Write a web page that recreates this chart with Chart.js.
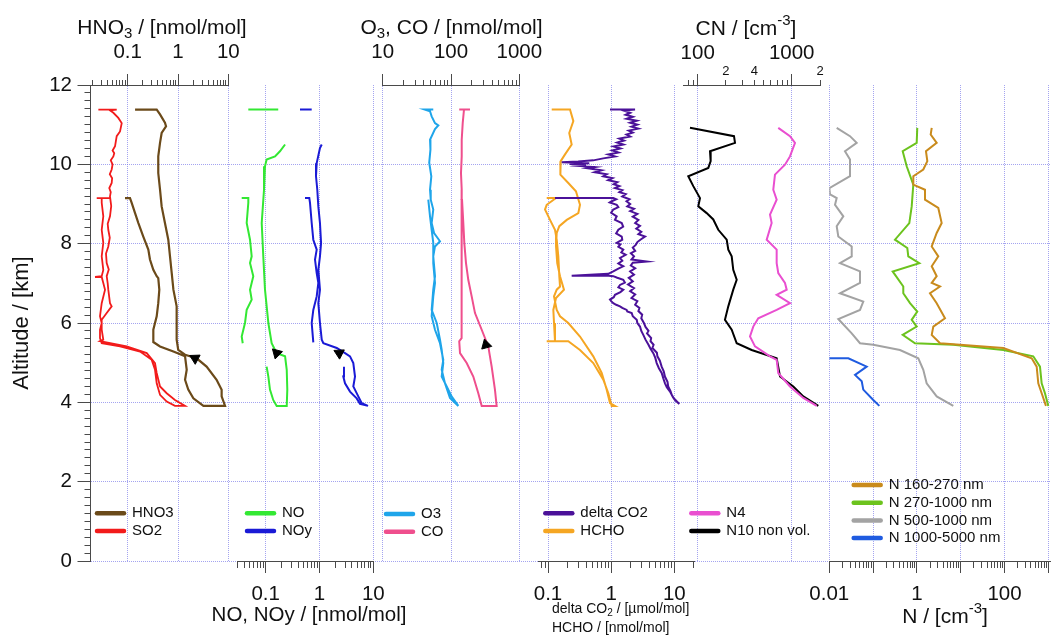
<!DOCTYPE html>
<html>
<head>
<meta charset="utf-8">
<title>Vertical profiles</title>
<script src="https://cdn.jsdelivr.net/npm/chart.js@4.4.1/dist/chart.umd.min.js"></script>
<style>
  html, body { margin: 0; padding: 0; background: #ffffff; }
  #wrap { position: relative; width: 1051px; height: 635px; }
</style>
</head>
<body>
<div id="wrap"><canvas id="profiles" width="1051" height="635"></canvas></div>
<script>
// ====================================================
// Data (altitude in km, mixing ratios / number concentrations)
// ====================================================
const altLabels = [0, 2, 4, 6, 8, 10, 12];
const altMinorStep = 0.2;

const hno3Labels = [0.1, 1, 10];
const noLabels = [0.1, 1, 10];
const o3Labels = [10, 100, 1000];
const co2Labels = [0.1, 1, 10];
const cnLabels = [100, 1000];
const cnSmallLabels = { 200: '2', 400: '4', 2000: '2' };
const nLabels = [0.01, 1, 100];

// HNO3 / SO2 panel
const hno3Alt = [11.38, 11.38, 11.26, 11.05, 10.96, 10.79, 10.54, 10.20, 9.78, 9.36, 8.94, 8.52, 8.10, 7.68, 7.26, 6.84, 6.42, 6.00, 5.58, 5.32,
  5.20, 5.11, 4.90, 4.57, 4.32, 4.15, 3.91, 3.91, 4.10, 4.32, 4.57, 4.82, 5.16, 5.28, 5.41, 5.52, 5.83, 6.17, 6.50, 6.84,
  7.13, 7.18, 7.34, 7.60, 7.85, 8.18, 8.52, 8.77, 9.03, 9.15, 9.15];
const hno3Val = [0.140, 0.377, 0.439, 0.55, 0.578, 0.473, 0.439, 0.405, 0.405, 0.439, 0.473, 0.55, 0.641, 0.693, 0.75, 0.81, 0.94, 0.94, 0.94, 1.01,
  1.38, 2.35, 3.70, 5.85, 7.37, 7.37, 8.62, 3.2, 2.02, 1.60, 1.38, 1.49, 1.38, 0.81, 0.439, 0.323, 0.323, 0.377, 0.405, 0.425,
  0.405, 0.377, 0.323, 0.277, 0.257, 0.204, 0.163, 0.140, 0.120, 0.111, 0.0884];

const so2Alt = [11.38, 11.38, 11.36, 11.30, 11.17, 11.04, 10.83, 10.71, 10.46, 10.35, 10.28, 10.20, 10.10, 10.00, 9.87, 9.75, 9.65, 9.53, 9.40, 9.30,
  9.19, 8.95, 8.69, 8.50, 8.35, 8.15, 7.93, 7.75, 7.51, 7.35, 7.18, 7.00, 6.84, 6.50, 6.42, 6.25, 6.08, 5.83, 5.58, 5.54,
  5.41, 5.24, 4.99, 4.74, 4.40, 4.23, 4.06, 3.91, 3.91, 4.02, 4.19, 4.48, 4.82, 5.07, 5.28, 5.41, 5.49, 5.62, 5.83, 6.00,
  6.17, 6.50, 6.84, 7.01, 7.16, 7.16, 7.18, 7.34, 7.68, 8.02, 8.35, 8.69, 9.03, 9.15, 9.15, 9.15];
const so2Val = [0.0261, 0.0604, 0.0444, 0.0518, 0.065, 0.076, 0.0703, 0.0604, 0.056, 0.050, 0.054, 0.0518, 0.046, 0.050, 0.048, 0.044, 0.049, 0.048, 0.043, 0.046,
  0.0444, 0.047, 0.0444, 0.040, 0.0411, 0.044, 0.0411, 0.037, 0.0382, 0.042, 0.0382, 0.040, 0.0411, 0.0444, 0.048, 0.0382, 0.0304, 0.0304, 0.0327, 0.0281,
  0.0955, 0.239, 0.349, 0.377, 0.439, 0.596, 0.87, 1.38, 0.87, 0.596, 0.439, 0.377, 0.349, 0.30, 0.176, 0.0703, 0.0304, 0.0281, 0.0281, 0.0304,
  0.0281, 0.0304, 0.0354, 0.0327, 0.0304, 0.0224, 0.0304, 0.0327, 0.0304, 0.0327, 0.0304, 0.0327, 0.0304, 0.0304, 0.0242, 0.0444];

// NO / NOy panel (null = data gap)
const noAlt = [11.38, 11.38, null, 10.50, 10.33, 10.20, 10.12, 9.95, 9.36, 8.52, 7.68, 6.84, 6.00, 5.49, 5.24, 5.16, 4.82, 4.32, 3.91, 3.91,
  4.06, 4.32, 4.65, 4.90, null, 9.15, 9.15, 9.03, 8.52, 8.10, 7.68, 7.51, 7.18, 6.84, 6.59, 6.33, 6.00, 5.66, 5.49];
const noVal = [0.0475, 0.171, null, 0.229, 0.184, 0.149, 0.104, 0.097, 0.093, 0.0843, 0.0902, 0.097, 0.112, 0.129, 0.160, 0.229, 0.246, 0.252, 0.246, 0.160,
  0.138, 0.120, 0.112, 0.104, null, 0.0358, 0.0475, 0.0475, 0.0443, 0.0511, 0.0549, 0.0511, 0.0588, 0.0511, 0.0549, 0.0443, 0.0412, 0.0358, 0.0374];

const noyAlt = [11.38, 11.38, null, 10.50, 10.41, 10.03, 9.70, 9.36, 8.94, 8.52, 8.02, 7.68, 7.34, 6.84, 6.50, 6.00, 5.58, 5.49, 5.37, 5.24,
  5.16, 4.99, 4.65, 4.40, 4.15, 3.98, 3.91, 3.96, 4.10, 4.27, 4.48, 4.65, 4.90, null, 9.15, 9.15, 9.03, 8.52, 8.10, 7.85,
  7.60, 7.26, 7.01, 6.67, 6.33, 6.00, 5.51];
const noyVal = [0.434, 0.716, null, 1.10, 1.02, 0.887, 0.861, 0.910, 0.951, 1.02, 1.07, 1.02, 0.951, 1.02, 0.951, 1.02, 1.10, 1.18, 2.09, 2.98,
  3.69, 4.25, 4.57, 4.25, 5.26, 6.1, 7.96, 5.66, 4.91, 3.69, 2.98, 2.77, 2.85, null, 0.538, 0.646, 0.666, 0.716, 0.767, 0.887,
  0.825, 0.887, 0.951, 0.887, 0.767, 0.716, 0.767];

// O3 / CO panel
const o3Alt = [11.38, 11.38, 11.34, 11.21, 11.04, 10.98, 10.89, 10.62, 10.37, 10.04, 9.70, 9.36, 9.11, 8.86, 8.52, 8.27, 8.06, 7.93, 7.68, 7.18,
  6.84, 6.33, 6.00, 5.58, 5.32, 4.99, 4.65, 4.40, 4.15, 3.91, 4.11, 4.48, 4.82, 5.07, 5.49, 5.83, 6.17, 6.67, 7.01, 7.51,
  8.02, 8.35, 8.69, 9.11];
const o3Val = [55.0, 41.6, 49.3, 52.1, 58.3, 65.2, 58.3, 49.3, 50, 48, 51.5, 49.3, 50.5, 55.0, 52.1, 56.5, 69.0, 58.3, 55.0, 58.3,
  55, 52.1, 61.8, 69.0, 73.1, 77.1, 73.1, 86.5, 102, 128, 96.6, 81.6, 73.1, 77.1, 69.0, 58.3, 52.1, 55.0, 58.3, 55,
  55, 52.1, 49.3, 46.5];

const coAlt = [11.38, 11.38, 11.38, 11.04, 10.62, 10.20, 9.78, 9.36, 8.52, 7.68, 6.84, 6.00, 5.62, 5.54, 5.24, 4.99, 4.65, 4.23, 3.91, 3.91,
  4.32, 4.90, 5.41, 5.83, 6.25, 6.67, 7.09, 7.51, 8.02, 8.52, 9.11, 9.13];
const coVal = [189.7, 132, 155, 148.4, 143.5, 143.5, 140, 143.5, 143.5, 141, 143.5, 143.5, 143.5, 132, 135.5, 169.7, 212, 251, 281.6, 466,
  440, 394, 351.5, 281.6, 224.6, 200.8, 179, 165.8, 156.6, 151.4, 145, 138.7];

// delta CO2 / HCHO panel (descent, then climb back to 9.15 km)
const co2Alt = [11.38, 11.38, 11.36, 11.30, 11.25, 11.20, 11.15, 11.10, 11.05, 11.00,
  10.95, 10.90, 10.85, 10.80, 10.75, 10.70, 10.65, 10.60, 10.55, 10.50,
  10.45, 10.40, 10.35, 10.30, 10.25, 10.20, 10.15, 10.10, 10.07, 10.05,
  10.03, 10.01, 9.99, 9.96, 9.93, 9.90, 9.85, 9.80, 9.75, 9.70,
  9.65, 9.60, 9.55, 9.50, 9.45, 9.40, 9.35, 9.30, 9.25, 9.19,
  9.12, 9.07, 9.00, 8.94, 8.88, 8.82, 8.75, 8.68, 8.60, 8.52,
  8.45, 8.38, 8.30, 8.24, 8.18, 8.10, 8.04, 7.97, 7.90, 7.82,
  7.76, 7.68, 7.60, 7.55, 7.52, 7.45, 7.38, 7.30, 7.22, 7.14,
  7.05, 6.97, 6.88, 6.80, 6.72, 6.63, 6.55, 6.46, 6.38, 6.30,
  6.21, 6.12, 6.00, 5.90, 5.80, 5.74, 5.62, 5.54, 5.45, 5.37,
  5.25, 5.16, 5.05, 4.90, 4.78, 4.65, 4.52, 4.40, 4.28, 4.19,
  4.10, 4.06, 3.96,
  4.02, 4.12, 4.27, 4.38, 4.48, 4.60, 4.74, 4.86, 4.99, 5.12,
  5.24, 5.35, 5.45, 5.58, 5.70, 5.80, 5.91, 6.00, 6.08, 6.17,
  6.25, 6.29, 6.33, 6.38, 6.42, 6.46, 6.50, 6.55, 6.59, 6.65,
  6.71, 6.78, 6.84, 6.90, 6.96, 7.02, 7.09, 7.14, 7.18, 7.20,
  7.19, 7.24, 7.30, 7.37, 7.43, 7.50, 7.57, 7.64, 7.72, 7.78,
  7.85, 7.92, 7.98, 8.02, 8.10, 8.18, 8.26, 8.35, 8.43, 8.52,
  8.60, 8.69, 8.78, 8.86, 8.92, 8.98, 9.04, 9.07, 9.12, 9.15,
  9.15];
const co2Val = [0.959, 2.39, 1.556, 2.0, 1.70, 2.2, 1.76, 2.54, 2.0, 2.6,
  2.1, 2.69, 1.9, 2.2, 1.75, 2.0, 1.35, 1.6, 1.25, 1.556,
  1.1, 1.4, 1.05, 1.3, 0.9, 1.15, 0.75, 0.521, 0.3, 0.165,
  0.45, 0.22, 0.40, 0.30, 0.55, 0.42, 0.70, 0.55, 0.85, 0.75,
  1.05, 0.90, 1.25, 1.10, 1.35, 1.15, 1.5, 1.35, 1.7, 1.5,
  1.95, 1.75, 2.0, 1.8, 2.3, 2.0, 2.6, 2.2, 2.7, 2.4,
  2.86, 2.5, 3.0, 2.7, 3.44, 2.9, 2.6, 2.45, 2.2, 2.4,
  2.05, 2.3, 2.1, 3.65, 2.2, 2.05, 2.4, 2.0, 2.3, 1.9,
  2.2, 1.85, 2.3, 2.0, 2.4, 2.1, 2.6, 2.4, 2.8, 2.7,
  3.1, 3.0, 3.3, 3.5, 3.9, 3.7, 4.3, 4.2, 4.7, 4.5,
  5.3, 5.4, 5.9, 6.3, 6.8, 7.1, 7.8, 8.0, 8.7, 9.1,
  9.8, 10.26, 12.0,
  11.0, 9.6, 8.55, 7.6, 7.12, 6.7, 6.31, 5.7, 5.26, 5.0,
  4.65, 4.2, 3.9, 3.5, 3.23, 3.0, 2.86, 2.6, 2.54, 2.2,
  2.115, 1.8, 1.76, 1.5, 1.38, 1.2, 1.08, 1.0, 0.959, 1.1,
  1.15, 1.4, 1.556, 1.3, 1.38, 1.65, 1.556, 1.25, 1.08, 0.85,
  0.237, 0.9, 1.08, 1.3, 1.556, 1.3, 1.5, 1.38, 1.7, 1.45,
  1.556, 1.3, 1.4, 1.224, 1.5, 1.47, 1.2, 1.30, 1.55, 1.47,
  1.15, 1.224, 1.0, 1.08, 1.3, 1.224, 0.95, 1.02, 1.2, 1.08,
  0.129];

const hchoAlt = [11.38, 11.38, 11.09, 10.79, 10.50, 10.25, 10.08, 9.87, 9.74, 9.53, 9.32, 8.98, 8.77, 8.60, 8.44, 8.27, 7.93, 7.51, 7.18, 6.84,
  6.63, 6.33, 6.00, 5.54, 5.54, 5.54, 5.32, 4.99, 4.57, 4.23, 3.91, 3.91, 3.98, 4.32, 4.74, 5.16, 5.66, 6.00, 6.17, 6.33,
  6.67, 6.84, 6.92, 7.18, 7.68, 8.10, 8.35, 8.60, 8.86, 8.98, 9.15, 9.15];
const hchoVal = [0.1145, 0.223, 0.252, 0.217, 0.237, 0.186, 0.159, 0.155, 0.159, 0.2095, 0.277, 0.321, 0.302, 0.198, 0.151, 0.1374, 0.134, 0.140, 0.155, 0.179,
  0.134, 0.1214, 0.1245, 0.129, 0.0954, 0.2095, 0.321, 0.521, 0.751, 0.902, 1.02, 1.15, 0.959, 0.850, 0.708, 0.521, 0.321, 0.2095, 0.155, 0.1374,
  0.1245, 0.1374, 0.155, 0.151, 0.1456, 0.1374, 0.129, 0.1076, 0.0896, 0.0954, 0.134, 0.0954];

// CN panel
const n4Alt = [10.92, 10.71, 10.54, 10.20, 9.99, 9.74, 9.36, 9.11, 8.73, 8.52, 8.10, 7.85, 7.51, 7.26, 7.01, 6.84, 6.71, 6.50, 6.33, 6.12,
  5.91, 5.66, 5.41, 5.16, 5.07, 4.74, 4.40, 4.11, 3.91];
const n4Val = [719.5, 959, 1084, 959, 848, 664, 637, 692, 588, 612, 542, 692, 692, 719.5, 848, 885, 692, 959, 692, 441,
  390, 360, 407, 588, 692, 719.5, 959, 1328, 1844];

const n10Alt = [10.92, 10.71, 10.54, 10.33, 10.08, 9.91, 9.70, 9.45, 9.15, 8.94, 8.77, 8.61, 8.35, 8.10, 7.85, 7.68, 7.34, 7.09, 6.84, 6.42,
  6.08, 5.83, 5.49, 5.32, 5.11, 4.65, 4.40, 4.15, 3.91];
const n10Val = [82.8, 243.3, 249.4, 135.2, 137.4, 129.7, 79.4, 89.8, 105.8, 101.5, 124.6, 146.5, 165.6, 203.5, 211.6, 230, 239, 260, 239, 211.6,
  195, 230, 260, 375, 692, 751, 1040, 1328, 1919];

// size-resolved N panel
const n160Alt = [10.92, 10.75, 10.54, 10.33, 10.08, 9.87, 9.70, 9.49, 9.36, 9.11, 8.90, 8.52, 8.27, 7.93, 7.68, 7.43, 7.18, 7.01, 6.92, 6.75,
  6.50, 6.12, 5.91, 5.70, 5.49, 5.37, 5.11, 4.90, 4.48, 4.23, 3.91];
const n160Val = [2.18, 2.065, 2.83, 1.61, 1.73, 1.40, 0.828, 0.828, 1.53, 1.53, 3.08, 3.68, 2.83, 2.18, 3.08, 2.18, 2.83, 2.18, 3.37, 1.99,
  2.83, 4.38, 2.37, 2.18, 3.37, 93.9, 418, 543, 591, 706, 885];

const n270Alt = [10.92, 10.54, 10.33, 9.95, 9.49, 8.94, 8.52, 8.10, 7.89, 7.68, 7.51, 7.30, 6.92, 6.75, 6.50, 6.29, 6.08, 5.91, 5.70, 5.49,
  5.45, 5.32, 5.16, 4.90, 4.48, 4.23, 3.91];
const n270Val = [1.02, 0.989, 0.474, 0.585, 0.828, 0.761, 0.671, 0.316, 0.604, 0.636, 1.134, 0.280, 0.489, 0.489, 0.696, 1.02, 0.761, 0.989, 0.474, 0.905,
  6.78, 93.9, 454, 646, 706, 840, 1000];

const n500Alt = [10.92, 10.71, 10.54, 10.33, 10.12, 9.70, 9.40, 9.24, 9.15, 8.98, 8.69, 8.44, 8.18, 7.93, 7.68, 7.51, 7.30, 7.01, 6.75, 6.54,
  6.33, 6.10, 5.74, 5.49, 5.45, 5.32, 5.11, 4.82, 4.48, 4.15, 3.91];
const n500Val = [0.01475, 0.0297, 0.0422, 0.0228, 0.0297, 0.0297, 0.0100, 0.0104, 0.01475, 0.0135, 0.0209, 0.01475, 0.01605, 0.0325, 0.0325, 0.01755, 0.0502, 0.0502, 0.01755, 0.0597,
  0.0502, 0.01605, 0.0325, 0.0502, 0.101, 0.411, 1.076, 1.40, 1.67, 2.83, 6.78];

const n1000Alt = [5.11, 5.11, 4.90, 4.69, 4.53, 4.32, 4.06, 3.91];
const n1000Val = [0.0100, 0.0272, 0.0714, 0.0387, 0.055, 0.0597, 0.101, 0.139];

// flight direction arrows: HNO3, NO, NOy, CO
const arrowAlt = [5.11, 5.24, 5.24, 5.45];
const arrowVal = [2.18, 0.160, 2.33, 325];

// ====================================================
// Look and layout
// ====================================================
const FONT = "'Liberation Sans', Arial, Helvetica, sans-serif";
const INK = '#111111';
const AXIS = '#4a4a4a';
const GRID = 'rgba(115,115,232,0.65)';
const TOP_H = 85;
const BOTTOM_H = 74;
const CLEAR = 'rgba(0,0,0,0)';

Chart.defaults.font.family = FONT;
Chart.defaults.color = INK;

function fixBox(scale, h) {
    scale.height = h;
    scale.paddingLeft = scale.paddingRight = scale.paddingTop = scale.paddingBottom = 0;
}

// 1..9 x 10^n ticks inside [min, max], decades flagged major
function decadeTicks(min, max) {
    const out = [];
    for (let e = Math.floor(Math.log10(min)); e <= Math.ceil(Math.log10(max)); e++) {
        for (let m = 1; m <= 9; m++) {
            const v = +(m * Math.pow(10, e)).toPrecision(6);
            if (v >= min * 0.999 && v <= max * 1.001) out.push({ value: v, major: m === 1 });
        }
    }
    return out;
}

function panelAxis(position, weight, min, max, labels, extra) {
    const top = position === 'top';
    const L = top ? 11 : 12;
    const m = top ? 5 : 6;
    const axis = {
        type: 'logarithmic',
        position: position,
        stack: position,
        stackWeight: weight,
        min: min,
        max: max,
        afterBuildTicks: (s) => { s.ticks = decadeTicks(min, max); },
        afterFit: (s) => fixBox(s, top ? TOP_H : BOTTOM_H),
        ticks: {
            autoSkip: false,
            maxRotation: 0,
            minRotation: 0,
            padding: 9,
            color: INK,
            font: { size: 20.5 },
            callback: (v) => labels.includes(v) ? String(v) : ''
        },
        grid: {
            color: (c) => c.tick && c.tick.major ? GRID : CLEAR,
            lineWidth: 1,
            tickLength: L,
            tickColor: AXIS,
            tickWidth: 1,
            tickBorderDash: (c) => c.tick && c.tick.major ? [] : [m, L - m],
            tickBorderDashOffset: (c) => c.tick && c.tick.major ? 0 : (top ? m : 0)
        },
        border: { color: AXIS, width: 1, dash: [1, 1] }
    };
    if (extra) extra(axis);
    return axis;
}

function gapAxis(position, weight) {
    return {
        type: 'linear', position: position, stack: position, stackWeight: weight,
        display: false, min: 0, max: 1,
        afterFit: (s) => fixBox(s, position === 'top' ? TOP_H : BOTTOM_H)
    };
}

function profile(label, color, axis, alt, val, width) {
    return {
        label: label,
        xAxisID: axis,
        yAxisID: 'y',
        data: alt.map((a, i) => ({ x: val[i], y: a })),
        showLine: true,
        borderColor: color,
        backgroundColor: color,
        borderWidth: width || 2,
        pointRadius: 0,
        tension: 0
    };
}

function arrow(axis, i, rotation) {
    return {
        label: 'direction',
        xAxisID: axis,
        yAxisID: 'y',
        data: [{ x: arrowVal[i], y: arrowAlt[i] }],
        showLine: false,
        pointStyle: 'triangle',
        pointRotation: rotation,
        pointRadius: 6,
        backgroundColor: '#000000',
        borderColor: '#000000',
        borderWidth: 1,
        order: -1
    };
}

// ====================================================
// Plugins: grouped legends and rich axis titles
// ====================================================
const groupLegend = {
    id: 'groupLegend',
    afterDraw(chart, args, opts) {
        const ctx = chart.ctx;
        ctx.save();
        ctx.font = opts.size + 'px ' + FONT;
        ctx.textBaseline = 'middle';
        ctx.textAlign = 'left';
        for (const g of opts.groups) {
            g.labels.forEach((label, i) => {
                const ds = chart.data.datasets.find(d => d.label === label);
                const y = g.y + i * opts.rowGap;
                ctx.strokeStyle = ds.borderColor;
                ctx.lineWidth = 4.5;
                ctx.lineCap = 'round';
                ctx.beginPath();
                ctx.moveTo(g.x + 2, y);
                ctx.lineTo(g.x + 29, y);
                ctx.stroke();
                ctx.fillStyle = INK;
                ctx.fillText(label, g.x + 37, y);
            });
        }
        ctx.restore();
    }
};

function drawRich(ctx, parts, x, y, size, align) {
    const small = Math.round(size * 0.7);
    let w = 0;
    parts.forEach(p => { ctx.font = (p[1] ? small : size) + 'px ' + FONT; w += ctx.measureText(p[0]).width; });
    let cx = align === 'left' ? x : x - w / 2;
    parts.forEach(p => {
        ctx.font = (p[1] ? small : size) + 'px ' + FONT;
        const dy = p[1] === 'sub' ? size * 0.3 : p[1] === 'sup' ? -size * 0.38 : 0;
        ctx.fillText(p[0], cx, y + dy);
        cx += ctx.measureText(p[0]).width;
    });
}

const richTitles = {
    id: 'richTitles',
    afterDraw(chart, args, opts) {
        const ctx = chart.ctx;
        ctx.save();
        ctx.fillStyle = INK;
        ctx.textBaseline = 'middle';
        ctx.textAlign = 'left';
        opts.items.forEach(t => drawRich(ctx, t.parts, t.x, t.y, t.size || 21, t.align));
        ctx.restore();
    }
};

// ====================================================
// Chart
// ====================================================
const altTicks = Array.from({ length: Math.round(12 / altMinorStep) + 1 }, (_, i) => i / 5);

const scales = {
    y: {
        type: 'linear',
        position: 'left',
        min: 0,
        max: 12,
        afterBuildTicks: (s) => { s.ticks = altTicks.map(v => ({ value: v, major: altLabels.includes(v) })); },
        afterFit: (s) => { s.width = 90.5; s.paddingTop = s.paddingBottom = 0; },
        ticks: {
            autoSkip: false,
            padding: 5.5,
            color: INK,
            font: { size: 20.5 },
            callback: (v) => altLabels.includes(v) ? String(v) : ''
        },
        grid: {
            color: (c) => c.tick && c.tick.major && c.tick.value < 12 ? GRID : CLEAR,
            tickLength: 13,
            tickColor: AXIS,
            tickWidth: 1,
            tickBorderDash: (c) => c.tick && c.tick.major ? [] : [6, 7],
            tickBorderDashOffset: (c) => c.tick && c.tick.major ? 0 : 6
        },
        border: { color: AXIS, width: 1, dash: [1, 1] },
        title: { display: true, text: 'Altitude / [km]', color: INK, font: { size: 22 }, padding: { top: 9, bottom: 0 } }
    },
    // top stack is laid out right to left
    gapT3: gapAxis('top', 230),
    xCN: panelAxis('top', 136.7, 70.3, 2000, cnLabels, (a) => {
        a.ticks.padding = -4.5;
        a.ticks.callback = (v) => cnLabels.includes(v) ? [String(v), ''] : (cnSmallLabels[v] || '');
        a.ticks.font = (c) => c.tick && cnLabels.includes(c.tick.value)
            ? { size: 20.5, lineHeight: '17px' }
            : { size: 13, lineHeight: '15px' };
    }),
    gapT2: gapAxis('top', 164),
    xO3: panelAxis('top', 136.6, 10, 1000, o3Labels),
    gapT1: gapAxis('top', 154.4),
    xHNO3: panelAxis('top', 137.8, 0.0182, 10, hno3Labels),
    // bottom stack, left to right
    gapB0: gapAxis('bottom', 146.8),
    xNO: panelAxis('bottom', 136, 0.02965, 10, noLabels),
    gapB1: gapAxis('bottom', 165),
    xCO2: panelAxis('bottom', 155.7, 0.0702, 20.5, co2Labels),
    gapB2: gapAxis('bottom', 135.3),
    xN: panelAxis('bottom', 220.7, 0.01, 1094, nLabels)
};

const datasets = [
    arrow('xHNO3', 0, -62),
    arrow('xNO', 1, -45),
    arrow('xNO', 2, -63),
    arrow('xO3', 3, -15),
    profile('HNO3', '#6b4a1a', 'xHNO3', hno3Alt, hno3Val, 2.2),
    profile('SO2', '#f21b1b', 'xHNO3', so2Alt, so2Val, 1.8),
    profile('NO', '#33e833', 'xNO', noAlt, noVal),
    profile('NOy', '#1a1ad6', 'xNO', noyAlt, noyVal),
    profile('O3', '#1fa5ea', 'xO3', o3Alt, o3Val),
    profile('CO', '#ef4f8d', 'xO3', coAlt, coVal),
    profile('delta CO2', '#4b1199', 'xCO2', co2Alt, co2Val),
    profile('HCHO', '#f5a623', 'xCO2', hchoAlt, hchoVal),
    profile('N4', '#e94fd0', 'xCN', n4Alt, n4Val),
    profile('N10 non vol.', '#000000', 'xCN', n10Alt, n10Val),
    profile('N 160-270 nm', '#c98b1d', 'xN', n160Alt, n160Val),
    profile('N 270-1000 nm', '#6cc31e', 'xN', n270Alt, n270Val),
    profile('N 500-1000 nm', '#a3a3a3', 'xN', n500Alt, n500Val),
    profile('N 1000-5000 nm', '#1f5be0', 'xN', n1000Alt, n1000Val)
];

new Chart(document.getElementById('profiles'), {
    type: 'scatter',
    data: { datasets: datasets },
    options: {
        responsive: false,
        animation: false,
        devicePixelRatio: 1,
        layout: { padding: { left: 0, right: 1, top: 0, bottom: 0 }, autoPadding: false },
        plugins: {
            legend: { display: false },
            tooltip: { enabled: false },
            groupLegend: {
                size: 15,
                rowGap: 17.7,
                groups: [
                    { x: 95, y: 513.3, labels: ['HNO3', 'SO2'] },
                    { x: 245, y: 513.3, labels: ['NO', 'NOy'] },
                    { x: 384, y: 514, labels: ['O3', 'CO'] },
                    { x: 543.3, y: 513.3, labels: ['delta CO2', 'HCHO'] },
                    { x: 689.3, y: 513.3, labels: ['N4', 'N10 non vol.'] },
                    { x: 851.7, y: 485, labels: ['N 160-270 nm', 'N 270-1000 nm', 'N 500-1000 nm', 'N 1000-5000 nm'] }
                ]
            },
            richTitles: {
                items: [
                    { x: 162, y: 28, parts: [['HNO'], ['3', 'sub'], [' / [nmol/mol]']] },
                    { x: 451.5, y: 28, parts: [['O'], ['3', 'sub'], [', CO / [nmol/mol]']] },
                    { x: 746, y: 29, parts: [['CN / [cm'], ['-3', 'sup'], [']']] },
                    { x: 309, y: 615, size: 20.5, parts: [['NO, NOy / [nmol/mol]']] },
                    { x: 552, y: 609, size: 14, align: 'left', parts: [['delta CO'], ['2', 'sub'], [' / [\u00b5mol/mol]']] },
                    { x: 552, y: 628, size: 14, align: 'left', parts: [['HCHO / [nmol/mol]']] },
                    { x: 945, y: 617, parts: [['N / [cm'], ['-3', 'sup'], [']']] }
                ]
            }
        },
        scales: scales
    },
    plugins: [groupLegend, richTitles]
});
</script>
</body>
</html>
